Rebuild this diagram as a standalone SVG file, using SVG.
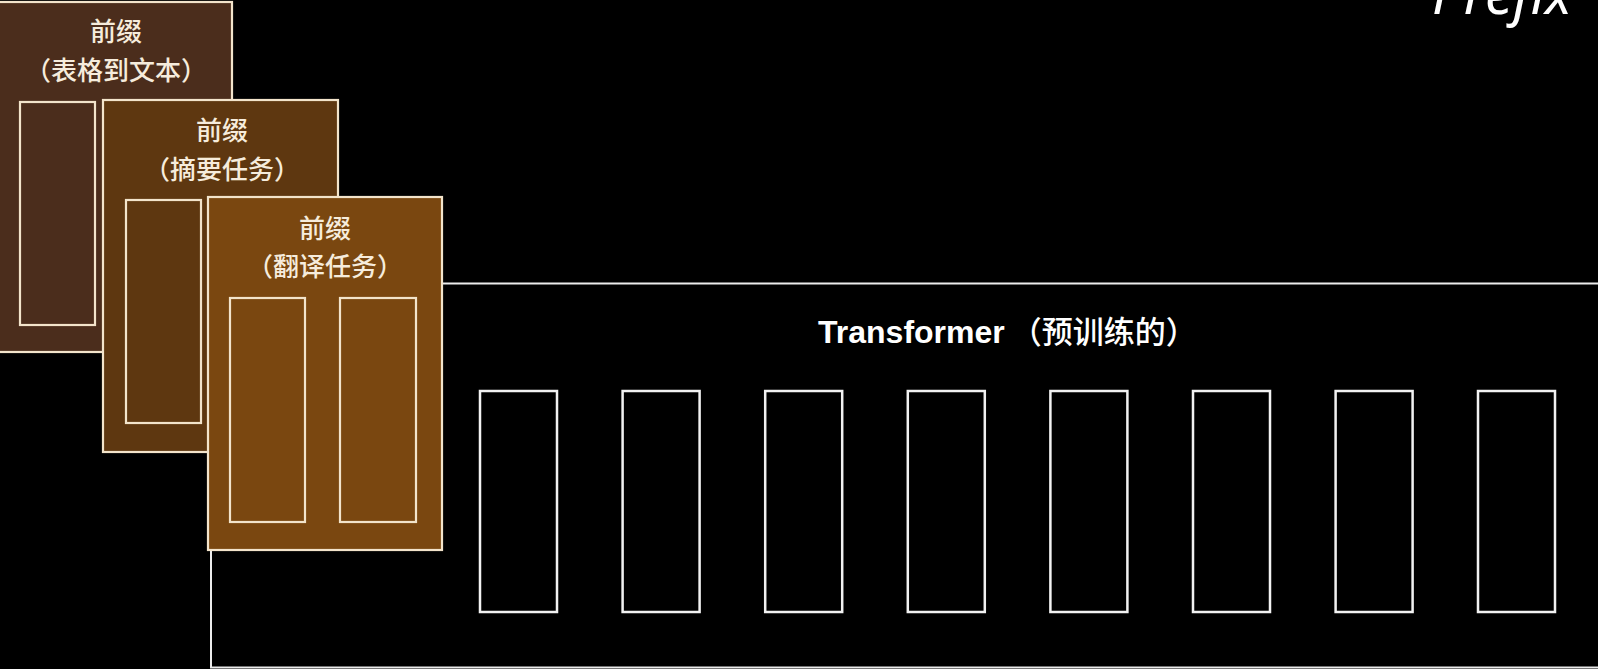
<svg xmlns="http://www.w3.org/2000/svg" width="1598" height="669" viewBox="0 0 1598 669">
<style>
.card{stroke:#f3e4cb;stroke-width:2.2}
.slot{fill:none;stroke:#f3e4cb;stroke-width:2.2}
.tok{fill:none;stroke:#f2f2f2;stroke-width:2.5}
.lbl{font-family:"Noto Sans CJK SC","Noto Sans",sans-serif;font-size:26px;font-weight:500;fill:#f6ecdc;text-anchor:middle}
.tt{font-family:"Liberation Sans","Noto Sans CJK SC",sans-serif;font-size:32px;fill:#ffffff}
</style>
<rect x="0" y="0" width="1598" height="669" fill="#000000"/>
<text x="1432" y="14" font-family="'Noto Sans',sans-serif" font-style="italic" font-size="56" fill="#ffffff">Prefix</text>
<g id="transformer">
<rect x="211" y="283.5" width="1400" height="384" fill="#000000" stroke="#ececec" stroke-width="2"/>
<text class="tt" x="818" y="343"><tspan font-weight="bold">Transformer</tspan><tspan dx="6" font-family="'Noto Sans CJK SC',sans-serif" font-weight="500" font-size="31">（预训练的）</tspan></text>
<rect class="tok" x="480" y="391" width="77" height="221"/>
<rect class="tok" x="622.6" y="391" width="77" height="221"/>
<rect class="tok" x="765.2" y="391" width="77" height="221"/>
<rect class="tok" x="907.8" y="391" width="77" height="221"/>
<rect class="tok" x="1050.4" y="391" width="77" height="221"/>
<rect class="tok" x="1193" y="391" width="77" height="221"/>
<rect class="tok" x="1335.6" y="391" width="77" height="221"/>
<rect class="tok" x="1478" y="391" width="77" height="221"/>
</g>
<g id="prefix-table">
<rect class="card" x="-2" y="2" width="234" height="350" fill="#4b2d1c"/>
<text class="lbl" x="116" y="41">前缀</text>
<text class="lbl" x="116" y="80">（表格到文本）</text>
<rect class="slot" x="20" y="102" width="75" height="223"/>
</g>
<g id="prefix-summary">
<rect class="card" x="103" y="100" width="235" height="352" fill="#5e3710"/>
<text class="lbl" x="222" y="140">前缀</text>
<text class="lbl" x="222" y="179">（摘要任务）</text>
<rect class="slot" x="126" y="200" width="75" height="223"/>
</g>
<g id="prefix-translate">
<rect class="card" x="208" y="197" width="234" height="353" fill="#7a4710"/>
<text class="lbl" x="325" y="238">前缀</text>
<text class="lbl" x="325" y="276">（翻译任务）</text>
<rect class="slot" x="230" y="298" width="75" height="224"/>
<rect class="slot" x="340" y="298" width="76" height="224"/>
</g>
<g id="connectors"></g>
</svg>
